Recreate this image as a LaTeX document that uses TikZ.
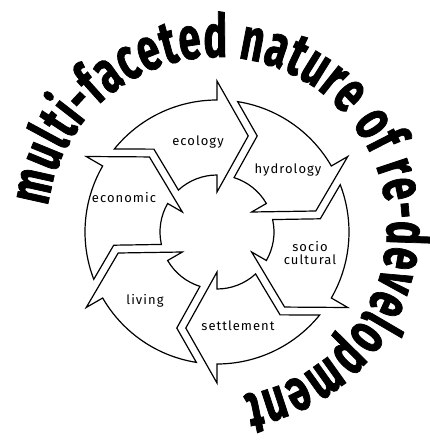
\documentclass[tikz,border=0pt]{standalone}
\usepackage{fontspec}
\usetikzlibrary{calc,decorations.text}
\newfontfamily\lblfont[LetterSpace=8]{Fira Sans}
\newfontfamily\arcfont[FakeStretch=0.66,FakeBold=1.2]{Fira Sans}
% one ring piece, head barbs on the ray #1, notch for the piece before it
\newcommand{\cycseg}[1]{(#1+51:132) arc[start angle=#1+51,end angle=#1,radius=132]
  -- (#1:151) -- (#1-18:101) -- (#1:40) -- (#1:57)
  arc[start angle=#1,end angle=#1+42.6,radius=57]
  -- ($(#1+42:101)+(#1-30:9)$) -- cycle}
\tikzset{
  seg/.style={draw=black,fill=white,line width=1.2pt,line join=miter},
  lbl/.style={font=\lblfont\fontsize{13}{12.5}\selectfont,anchor=base,
    align=center,inner sep=0pt}
}

\begin{document}
\begin{tikzpicture}[x=1pt,y=1pt,
  arctext/.style={decorate,decoration={text along path,text align=fit to path,
    text={|\arcfont\bfseries\fontsize{60}{62}\selectfont|multi-faceted nature of re-development}}}]
\useasboundingbox (-217,-209) rectangle (213,232);
\coordinate (hub) at (0,0);
\coordinate (txtc) at (0,5);
\draw[seg] \cycseg{150};
\draw[seg] \cycseg{90};
\draw[seg] \cycseg{30};
\draw[seg] \cycseg{-30};
\draw[seg] \cycseg{-90};
\draw[seg] \cycseg{-150};
\node[lbl] (eco) at (-19,86) {ecology};
\node[lbl] (hyd) at (71,58) {hydrology};
\node[lbl,anchor=center] (soc) at (93,-21) {socio\\cultural};
\node[lbl] (set) at (21,-98) {settlement};
\node[lbl] (liv) at (-72,-72) {living};
\node[lbl] (econ) at (-93,29) {economic};
\path[arctext] ($(txtc)+(173:170)$) arc[start angle=173,end angle=-81,radius=170];
\end{tikzpicture}
\end{document}
